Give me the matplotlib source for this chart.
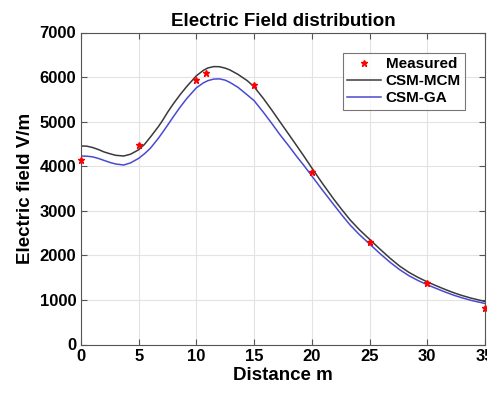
import matplotlib
matplotlib.use('Agg')
import matplotlib.pyplot as plt

# measured points
meas_x = [0, 5, 10, 10.8, 15, 20, 25, 30, 35]
meas_y = [4140, 4470, 5940, 6100, 5820, 3860, 2310, 1390, 830]

dist = [0, 0.5, 1, 1.5, 2, 2.5, 3, 3.7, 4.3, 5, 5.5, 6, 6.7, 7.1, 7.5, 8, 8.6, 9.2,
        10, 10.6, 11, 11.5, 12, 12.5, 12.9, 13.6, 14.4, 15, 15.8, 16.5, 17.2, 18,
        18.7, 19.3, 20, 20.9, 21.9, 22.6, 23.3, 24.1, 25, 25.9, 26.8, 27.6, 28.4,
        29.2, 30, 30.8, 31.5, 32.3, 33, 33.8, 35]

# CSM-MCM curve
mcm_y = [4454, 4450, 4420, 4375, 4320, 4280, 4245, 4229, 4270, 4370, 4490, 4650,
         4887, 5040, 5210, 5400, 5610, 5800, 6030, 6150, 6205, 6235, 6232, 6200,
         6160, 6060, 5920, 5780, 5520, 5270, 5010, 4715, 4455, 4230, 3960, 3620,
         3260, 3025, 2800, 2580, 2360, 2140, 1930, 1760, 1620, 1505, 1405, 1315,
         1240, 1160, 1100, 1040, 965]

# CSM-GA curve
ga_y = [4229, 4225, 4210, 4175, 4130, 4085, 4050, 4027, 4075, 4177, 4280, 4400,
        4626, 4770, 4920, 5110, 5330, 5530, 5760, 5870, 5920, 5955, 5960, 5930,
        5880, 5770, 5600, 5470, 5210, 4970, 4720, 4455, 4215, 4020, 3780, 3470,
        3135, 2905, 2685, 2470, 2255, 2040, 1840, 1680, 1545, 1435, 1340, 1255,
        1182, 1105, 1048, 990, 920]

plt.rcParams['font.family'] = ['Liberation Sans', 'DejaVu Sans']
plt.rcParams['font.weight'] = 'bold'

fig = plt.figure(figsize=(4.87, 3.97), dpi=100)
ax = fig.add_axes([81 / 487, 1 - 344.5 / 397, 404 / 487, 312 / 397])

ax.plot(meas_x, meas_y, '*', color='red', markersize=5, label='Measured', clip_on=False, zorder=5)
ax.plot(dist, mcm_y, '-', color='#3a3a3a', linewidth=1.1, label='CSM-MCM')
ax.plot(dist, ga_y, '-', color='#4a4ad0', linewidth=1.1, label='CSM-GA')

ax.set_xlim(0, 35)
ax.set_ylim(0, 7000)
ax.set_xticks(range(0, 36, 5))
ax.set_yticks(range(0, 7001, 1000))
ax.grid(True, color='#e3e3e3', linewidth=0.8)
ax.set_axisbelow(True)
ax.tick_params(direction='in', top=True, right=True, labelsize=12, color='#555555', length=4)
for s in ax.spines.values():
    s.set_color('#555555')
    s.set_linewidth(0.8)

ax.set_title('Electric Field distribution', fontsize=13.5, fontweight='bold', pad=5)
ax.set_xlabel('Distance m', fontsize=13.5, fontweight='bold', labelpad=2)
ax.set_ylabel('Electric field V/m', fontsize=13.5, fontweight='bold', labelpad=4)

leg = ax.legend(loc='upper right', bbox_to_anchor=(0.97, 0.96), fontsize=11,
                frameon=True, fancybox=False, edgecolor='#555555',
                handlelength=2.2, handletextpad=0.3, borderpad=0.3, labelspacing=0.2)
leg.get_frame().set_linewidth(0.8)

fig.savefig('out.png', dpi=100)
